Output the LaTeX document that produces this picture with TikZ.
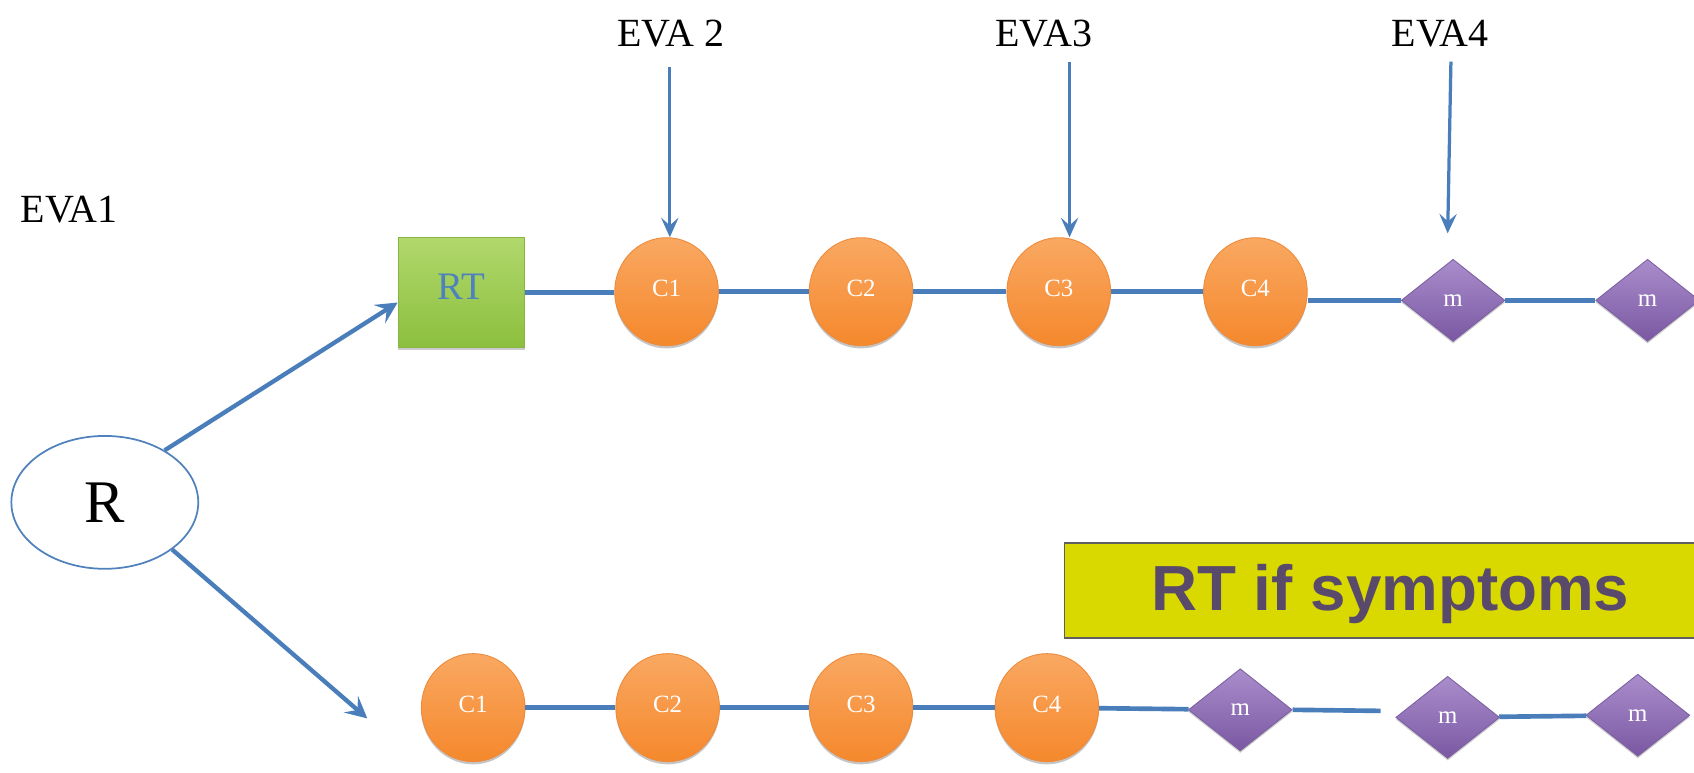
\documentclass[tikz,border=0pt]{standalone}
\usepackage{fontspec}
\setmainfont{Liberation Serif}
\newfontfamily\headfont{Liberation Sans}
\usetikzlibrary{shapes.geometric,arrows.meta,shadows,calc}
\definecolor{lineblue}{HTML}{4A7EBB}
\definecolor{orangetop}{HTML}{F9A862}
\definecolor{orangebot}{HTML}{F5882C}
\definecolor{orangeline}{HTML}{EE8A3A}
\definecolor{purptop}{HTML}{AA8DCC}
\definecolor{purpbot}{HTML}{7A58A2}
\definecolor{purpline}{HTML}{7B5FA0}
\definecolor{greentop}{HTML}{B0D86C}
\definecolor{greenbot}{HTML}{8CBF3E}
\definecolor{greenline}{HTML}{8AB545}
\definecolor{yellowbox}{HTML}{D9D900}
\definecolor{boxline}{HTML}{5F5F5F}
\definecolor{darktext}{HTML}{594A6B}
\definecolor{rtblue}{HTML}{4F81BD}
\tikzset{
  circ/.style={ellipse, minimum width=96pt, minimum height=100pt, inner sep=0pt,
    top color=orangetop, bottom color=orangebot, draw=orangeline, line width=0.8pt,
    drop shadow={shadow xshift=0pt, shadow yshift=-2.5pt, opacity=0.45, fill=gray},
    text=white, font=\fontsize{23}{23}\selectfont},
  diam/.style={diamond, aspect=1.3, minimum width=96pt, minimum height=76pt, inner sep=0pt,
    top color=purptop, bottom color=purpbot, draw=purpline, line width=0.8pt,
    drop shadow={shadow xshift=0pt, shadow yshift=-2pt, opacity=0.4, fill=gray},
    text=white, font=\fontsize{23}{23}\selectfont},
  evalabel/.style={font=\fontsize{37}{37}\selectfont, text=black, inner sep=0pt},
  conn/.style={draw=lineblue, line width=4.3pt},
  arr/.style={draw=lineblue, line width=4pt, -{Stealth[length=20pt,width=20pt,inset=8pt]}},
  varr/.style={draw=lineblue, line width=3pt, -{Stealth[length=18pt,width=16pt,inset=7pt]}},
}
\begin{document}
\begin{tikzpicture}[x=1pt,y=-1pt]
\clip (0,0) rectangle (1568,715);
\fill[white] (0,0) rectangle (1568,715);

% labels
\node[evalabel] (e1) at (64,194) {EVA1};
\node[evalabel] (e2) at (621,31) {EVA 2};
\node[evalabel] (e3) at (966,31) {EVA3};
\node[evalabel] (e4) at (1333,31) {EVA4};

% R ellipse
\node[ellipse, draw=rtblue, line width=1.6pt, fill=white, minimum width=173pt, minimum height=123pt,
  inner sep=0pt, font=\fontsize{56}{56}\selectfont] (R) at (97,465) {R};

% RT box
\node[rectangle, minimum width=117pt, minimum height=102pt, inner sep=0pt,
  top color=greentop, bottom color=greenbot, draw=greenline, line width=0.8pt,
  drop shadow={shadow xshift=0pt, shadow yshift=-2pt, opacity=0.4, fill=gray},
  text=rtblue, font=\fontsize{36}{36}\selectfont] (RT) at (427,271) {\raisebox{12pt}{RT}};

% top row
\node[circ] (t1) at (617,270) {\raisebox{6pt}{C1}};
\node[circ] (t2) at (797,270) {\raisebox{6pt}{C2}};
\node[circ] (t3) at (980,270) {\raisebox{6pt}{C3}};
\node[circ] (t4) at (1162,270) {\raisebox{6pt}{C4}};
\node[diam] (tm1) at (1345,278) {m};
\node[diam] (tm2) at (1525,278) {m};

% bottom row
\node[circ] (b1) at (438,655) {\raisebox{6pt}{C1}};
\node[circ] (b2) at (618,655) {\raisebox{6pt}{C2}};
\node[circ] (b3) at (797,655) {\raisebox{6pt}{C3}};
\node[circ] (b4) at (969,655) {\raisebox{6pt}{C4}};
\node[diam] (bm1) at (1148,657) {m};
\node[diam] (bm2) at (1340,664) {m};
\node[diam] (bm3) at (1516,662) {m};

% connectors top
\draw[conn] (RT.east) -- (RT.east -| t1.west);
\draw[conn] (t1) -- (t2);
\draw[conn] (t2) -- (t3);
\draw[conn] (t3) -- (t4);
\draw[conn] (tm1.west) -- (tm1.west -| t4.east);
\draw[conn] (tm1) -- (tm2);

% connectors bottom
\draw[conn] (b1) -- (b2);
\draw[conn] (b2) -- (b3);
\draw[conn] (b3) -- (b4);
\draw[conn] (b4) -- (bm1);
\coordinate (bend) at (1278,658);
\draw[conn] (bm1.east) -- (bend);
\draw[conn] (bm2) -- (bm3);

% arrows from R
\draw[arr] (R.41) -- ($(RT.west)+(0,9)$);
\coordinate (lowend) at (340,665);
\draw[arr] (R.-35) -- (lowend);

% EVA arrows
\coordinate (a2) at (620,62);
\coordinate (a3) at (990,57);
\coordinate (a4) at (1343,57);
\coordinate (a4end) at (1340,216);
\draw[varr] (a2) -- (a2 |- t1.north);
\draw[varr] (a3) -- (a3 |- t3.north);
\draw[varr] (a4) -- (a4end);

% yellow box
\node[rectangle, anchor=north west, minimum width=600pt, minimum height=88pt, inner sep=0pt,
  fill=yellowbox, draw=boxline, line width=1.2pt] (ybox) at (985,502) {};
\node[font=\headfont\bfseries\fontsize{59}{59}\selectfont, text=darktext] (ytext) at (1287,550) {RT if symptoms};
\end{tikzpicture}
\end{document}
